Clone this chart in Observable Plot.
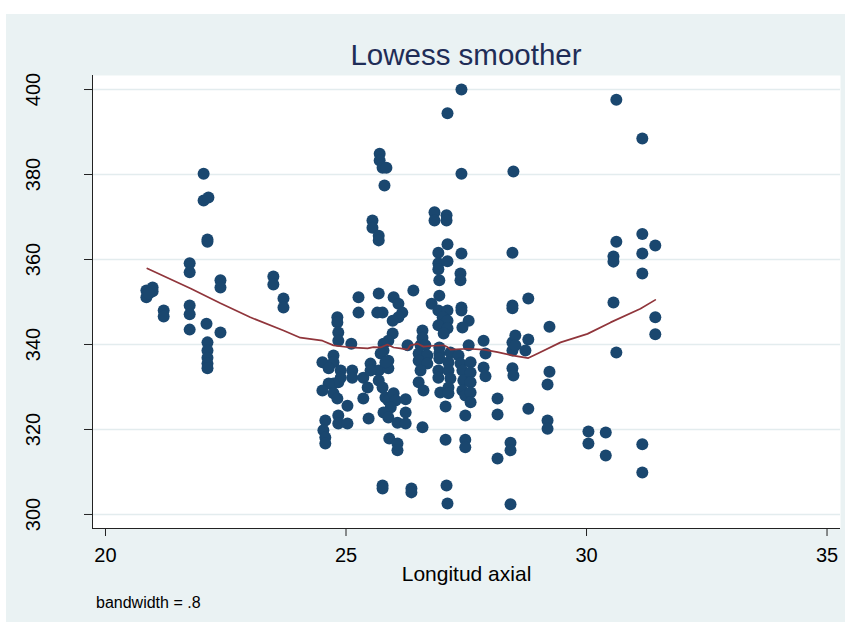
<!DOCTYPE html>
<html>
<head>
<meta charset="utf-8">
<script src="https://cdn.jsdelivr.net/npm/d3@7"></script>
<script src="https://cdn.jsdelivr.net/npm/@observablehq/plot@0.6"></script>
<style>
  html, body { margin: 0; padding: 0; background: #ffffff; }
  body { width: 847px; height: 628px; position: relative; overflow: hidden; font-family: "Liberation Sans", Arial, sans-serif; }
  #panel { position: absolute; left: 6px; top: 14px; width: 839px; height: 608px; background: #EAF2F3; }
  #title { position: absolute; left: 86px; width: 748px; top: 26px; text-align: center; font-size: 29.5px; line-height: 1; color: #1f2d57; white-space: nowrap; }
  #chart { position: absolute; left: 0; top: 46px; }
  #caption { position: absolute; left: 90px; top: 580.5px; font-size: 16px; line-height: 1; color: #000; white-space: nowrap; }
</style>
</head>
<body>
<div id="panel">
  <div id="title">Lowess smoother</div>
  <div id="chart"></div>
  <div id="caption">bandwidth = .8</div>
</div>
<script>
// ---- data ----
const xTicks = [20, 25, 30, 35];
const yTicks = [300, 320, 340, 360, 380, 400];

const axial = [
  20.85,20.85,20.98,20.98,20.9,21.21,21.21,21.75,21.75,21.75,21.75,21.75,22.04,22.04,22.14,22.12,22.12,22.1,22.12,22.12,22.12,22.12,22.12,22.39,22.39,22.39,23.49,23.49,23.70,23.70,
  24.82,24.82,24.84,24.84,25.11,25.26,25.26,24.51,24.74,24.74,24.64,24.89,24.89,24.84,24.74,24.64,24.51,24.74,24.82,25.03,25.13,25.13,25.36,24.84,24.84,25.03,24.57,24.53,24.57,24.57,25.36,25.45,25.47,
  25.70,25.70,25.76,25.84,25.80,25.55,25.55,25.68,25.68,25.68,25.99,26.09,26.17,26.09,25.76,25.65,25.97,25.97,25.88,25.78,25.78,25.51,25.68,25.51,25.68,25.76,25.72,25.88,25.88,25.82,25.82,25.88,25.99,26.03,25.93,25.78,25.88,26.07,26.24,26.24,26.24,25.90,26.07,26.07,26.28,26.40,25.76,25.76,26.36,26.36,
  26.59,26.59,26.55,26.65,26.51,26.69,26.51,26.69,26.55,26.51,26.61,26.59,26.78,26.94,26.84,26.84,27.09,27.09,27.11,26.92,26.92,27.11,26.92,26.94,26.92,27.11,27.01,27.11,26.92,27.11,27.03,26.94,26.94,26.94,26.92,26.92,26.96,27.07,27.17,27.13,27.13,27.17,27.13,27.13,27.40,27.11,27.40,27.40,27.38,27.38,27.40,27.40,27.55,27.42,27.55,27.34,27.38,27.42,27.44,27.42,27.48,27.59,27.59,27.59,27.59,27.59,27.48,27.07,27.48,27.48,27.09,27.11,
  27.86,27.90,27.86,27.90,28.48,28.46,28.46,28.46,28.79,28.46,28.52,28.46,28.52,28.79,28.73,28.46,28.48,28.15,28.15,28.79,28.42,28.42,28.15,28.42,29.23,29.23,29.19,29.19,29.19,
  30.62,31.16,31.16,31.43,31.16,31.16,30.62,30.56,30.56,30.56,31.43,31.43,30.62,30.04,30.40,30.04,30.40,31.16,31.16
];
const valor = [
  352.7,351.1,353.4,352.5,352.0,348.0,346.6,359.1,357.0,349.2,347.1,343.5,380.2,373.9,374.6,364.7,364.2,344.9,340.5,338.6,336.9,335.5,334.4,355.1,353.4,342.8,356.0,354.1,350.8,348.7,
  346.4,345.2,342.8,340.9,340.2,351.1,347.5,335.8,337.4,335.8,334.4,333.9,332.2,331.1,330.8,330.8,329.2,328.5,327.3,325.6,333.9,332.2,332.2,323.3,321.4,321.4,322.1,319.8,318.1,316.7,327.3,329.9,322.6,
  384.9,383.3,381.6,381.6,377.4,369.2,367.5,365.6,364.5,352.0,351.1,349.6,347.5,346.4,347.5,347.5,345.6,342.6,340.9,340.2,338.6,335.5,333.9,333.9,331.5,329.9,337.9,336.2,334.4,335.8,327.5,326.8,328.5,326.8,325.2,324.0,322.8,321.6,327.1,324.0,321.4,317.9,316.7,315.1,339.8,352.7,306.8,306.1,306.1,305.2,
  343.3,341.6,339.8,339.8,337.9,337.4,336.2,335.5,333.9,331.1,329.2,320.5,349.6,351.5,371.1,369.2,370.4,369.2,363.6,361.6,359.1,359.6,357.7,355.1,348.0,348.0,346.4,345.6,344.5,343.8,342.6,339.3,337.9,336.7,333.9,332.2,328.7,325.4,338.1,335.8,333.9,332.0,329.9,328.5,400.0,394.4,380.2,361.4,356.7,355.1,348.7,348.0,345.6,344.0,339.8,337.4,335.5,333.9,331.5,329.2,328.0,335.8,333.4,331.1,328.7,326.4,323.3,317.6,317.6,315.8,306.8,302.6,
  340.9,337.9,334.6,332.5,380.7,361.6,349.2,348.5,350.8,340.5,342.1,338.6,339.8,341.2,338.6,334.4,332.7,327.3,323.5,324.9,316.9,315.1,313.2,302.4,344.2,333.6,330.6,322.1,320.2,
  397.6,388.5,366.0,363.3,361.4,356.7,364.2,360.7,359.5,349.9,346.4,342.4,338.1,319.5,319.3,316.7,313.9,316.5,309.9
];

// lowess curve as drawn in the reference
const lowessX = [20.87,21.77,22.39,23.01,23.70,24.05,24.51,24.74,25.09,25.45,25.57,25.72,25.86,25.99,26.13,26.28,26.34,26.49,26.61,26.82,27.03,27.11,27.17,27.53,27.86,28.15,28.48,28.79,29.04,29.46,30.02,30.50,31.12,31.43];
const lowessY = [357.9,353.2,349.7,346.4,343.3,341.6,340.9,339.8,339.3,339.1,339.4,339.3,340.0,339.3,339.1,338.8,339.8,340.2,339.5,339.7,339.8,339.4,338.8,339.0,338.8,338.2,337.4,336.8,338.2,340.5,342.5,345.2,348.4,350.5];

// ---- build tables ----
const points = axial.map((x, i) => ({x, y: valor[i]}));
const lowess = lowessX.map((x, i) => ({x, y: lowessY[i]}));

const xDomain = [19.73, 35.28];
const yDomain = [296.7, 403.3];

const chart = Plot.plot({
  width: 839,
  height: 540,
  marginLeft: 86,
  marginRight: 5,
  marginTop: 15,
  marginBottom: 72,
  style: {background: "transparent", overflow: "visible", fontFamily: "'Liberation Sans', Arial, sans-serif", color: "#000"},
  x: {domain: xDomain},
  y: {domain: yDomain},
  marks: [
    Plot.frame({fill: "white", stroke: null}),
    Plot.ruleY(yTicks, {stroke: "#E3ECEE", strokeWidth: 1.6}),
    Plot.ruleX([xDomain[0]], {stroke: "#222", strokeWidth: 1}),
    Plot.ruleY([yDomain[0]], {stroke: "#222", strokeWidth: 1}),
    Plot.axisY(yTicks, {tickSize: 8, tickFormat: () => "", label: null, stroke: "#222"}),
    Plot.text(yTicks, {y: d => d, text: d => String(d), frameAnchor: "left", dx: -53, rotate: -90, textAnchor: "middle", lineAnchor: "bottom", fontSize: 20, fill: "#000"}),
    Plot.axisX(xTicks, {tickSize: 8, tickPadding: 11, fontSize: 20, label: null, stroke: "#222", fill: "#000"}),
    Plot.text(["Longitud axial"], {text: d => d, frameAnchor: "bottom", dy: 52, lineAnchor: "bottom", fontSize: 21, fill: "#000"}),
    Plot.dot(points, {x: "x", y: "y", r: 6, fill: "#1A476F"}),
    Plot.line(lowess, {x: "x", y: "y", stroke: "#90353B", strokeWidth: 1.7})
  ]
});
document.getElementById("chart").appendChild(chart);
</script>
</body>
</html>
